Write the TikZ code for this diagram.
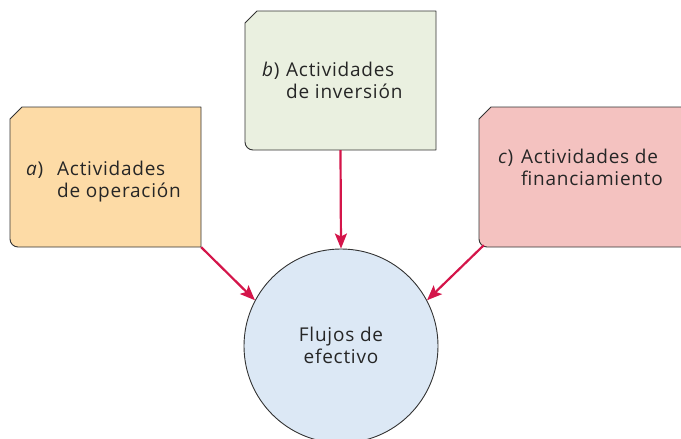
\documentclass[tikz,border=0pt]{standalone}
\usepackage{fontspec}
\setmainfont{Open Sans}[LetterSpace=4]
\usetikzlibrary{arrows.meta,calc}
\definecolor{boxa}{HTML}{FDDBA6}
\definecolor{boxb}{HTML}{EAF0E0}
\definecolor{boxc}{HTML}{F4C2C0}
\definecolor{circfill}{HTML}{DCE8F5}
\definecolor{arrowred}{HTML}{D4154A}
\definecolor{edge}{HTML}{333333}
\tikzset{
  boxnode/.style={rectangle, inner sep=0pt},
  txt/.style={anchor=base west, inner sep=0pt, font=\fontsize{19}{21}\selectfont, text=black!85},
  ctxt/.style={anchor=base, inner sep=0pt, font=\fontsize{19}{21}\selectfont, text=black!85},
  flow/.style={draw=arrowred, line width=2.2pt, -{Stealth[length=15pt,width=12pt,inset=3pt]}},
}
\newcommand{\tagbox}[6]{% name, x1, y1, x2, y2, colour
  \path[fill=#6, draw=edge, line width=0.9pt, line join=round]
    (#2,#3+12) -- (#2+12,#3) -- (#4,#3) -- (#4,#5) -- (#2+8,#5)
    .. controls (#2+3.6,#5) and (#2,#5-3.6) .. (#2,#5-8) -- cycle;
  \node[boxnode, minimum width=#4-#2, minimum height=#5-#3] (#1) at ({(#2+#4)/2},{(#3+#5)/2}) {};
}
\begin{document}
\begin{tikzpicture}[x=1pt,y=-1pt]
\useasboundingbox (0,0) rectangle (681,439);
% boxes
\tagbox{a}{10}{107}{201}{247}{boxa}
\tagbox{b}{245}{11}{436}{150}{boxb}
\tagbox{c}{479}{107}{700}{247}{boxc}
% circle
\node[circle, fill=circfill, draw=edge, line width=0.9pt, minimum size=194pt, inner sep=0pt] (f) at (341,346) {};
% texts
\node[txt] (ta1) at (26,175) {\textit{a})};
\node[txt] (ta2) at (57,175) {Actividades};
\node[txt] (ta3) at (57,197) {de operación};
\node[txt] (tb1) at (262,76) {\textit{b})};
\node[txt] (tb2) at (286,76) {Actividades};
\node[txt] (tb3) at (286,98) {de inversión};
\node[txt] (tc1) at (498,163) {\textit{c})};
\node[txt] (tc2) at (521,163) {Actividades de};
\node[txt] (tc3) at (521,185) {financiamiento};
\node[ctxt] (tf1) at (341,341) {Flujos de};
\node[ctxt] (tf2) at (341,363) {efectivo};
% arrows
\coordinate (cs) at ($(c.south west)+(5,-2)$);
\draw[flow] (a.south east) -- (f.152);
\draw[flow] (b.south) -- (f.north);
\draw[flow] (cs) -- (f.28);
\end{tikzpicture}
\end{document}
